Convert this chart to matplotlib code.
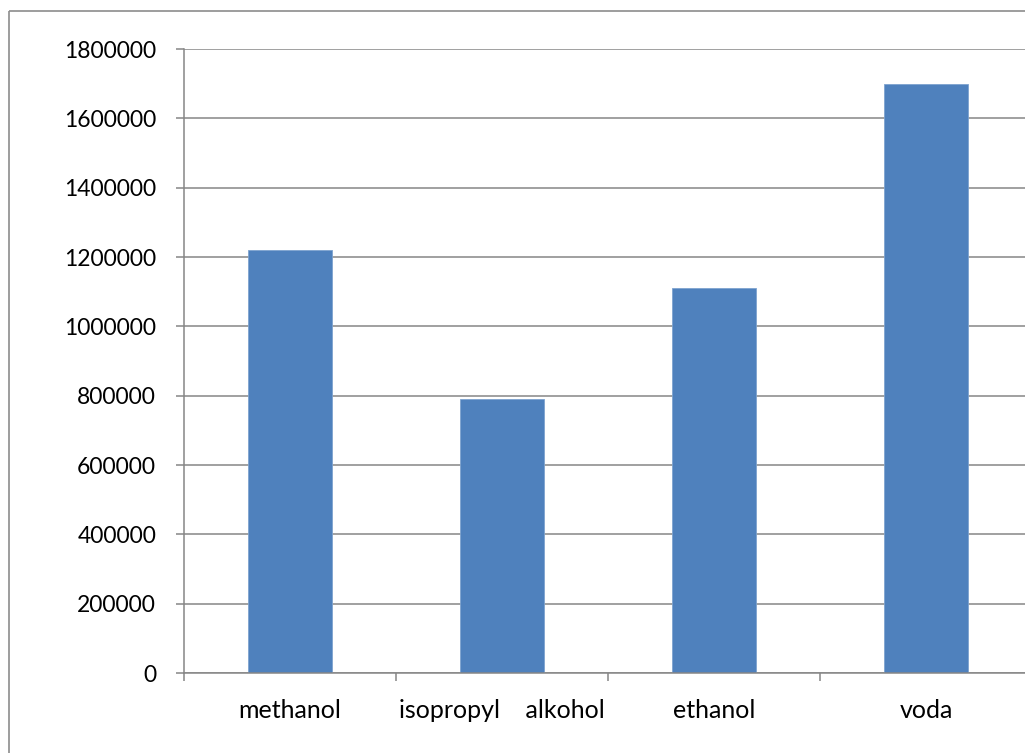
import matplotlib
matplotlib.use("Agg")
import matplotlib.pyplot as plt
from matplotlib.lines import Line2D
from matplotlib.ticker import FixedLocator, NullFormatter

categories = ["methanol", "isopropyl    alkohol", "ethanol", "voda"]
values = [1220000, 790000, 1110000, 1700000]
yticks = [0, 200000, 400000, 600000, 800000, 1000000, 1200000, 1400000, 1600000, 1800000]

W, H = 1025, 753
fig = plt.figure(figsize=(W / 100, H / 100), dpi=100)
plt.rcParams["font.family"] = ["Lato", "DejaVu Sans"]

grid_col = "#868686"
bar_col = "#4f81bd"

# chart frame: only the left and top edges fall inside the image
frame_x = 8.5 / W
frame_y = 1 - 10.5 / H
fig.lines.append(Line2D([frame_x, frame_x], [0, frame_y], transform=fig.transFigure,
                        color="#8c8c8c", linewidth=1.2, solid_capstyle="butt"))
fig.lines.append(Line2D([frame_x, 1], [frame_y, frame_y], transform=fig.transFigure,
                        color="#8c8c8c", linewidth=1.2, solid_capstyle="butt"))

# plot area runs off the right edge; each category slot is 212 px wide
slot = 212.0
ax_left = 184
ax = fig.add_axes([ax_left / W, 80 / H, (W - ax_left) / W, 624 / H])
x = list(range(len(categories)))
ax.bar(x, values, width=0.4, color=bar_col, edgecolor="#7ea3cf", linewidth=0.6, zorder=3)

ax.set_xlim(-0.5, -0.5 + (W - ax_left) / slot)
ax.set_ylim(0, 1800000)
ax.set_yticks(yticks)
ax.set_yticklabels([str(v) for v in yticks])
ax.yaxis.grid(True, color=grid_col, linewidth=1.1, zorder=0)

ax.set_xticks(x)
ax.set_xticklabels(categories)
ax.xaxis.set_minor_locator(FixedLocator([i - 0.5 for i in range(len(categories))]))
ax.xaxis.set_minor_formatter(NullFormatter())
ax.tick_params(axis="x", which="major", length=0, pad=19, labelsize=18, labelcolor="#000000")
ax.tick_params(axis="x", which="minor", length=6, width=1.1, color=grid_col, direction="out")
ax.tick_params(axis="y", length=6, width=1.1, color=grid_col, pad=14, labelsize=16.5, labelcolor="#000000")

for s in ["top", "right"]:
    ax.spines[s].set_visible(False)
for s in ["left", "bottom"]:
    ax.spines[s].set_color(grid_col)
    ax.spines[s].set_linewidth(1.1)
ax.spines["bottom"].set_zorder(4)

fig.savefig("out.png", dpi=100)
